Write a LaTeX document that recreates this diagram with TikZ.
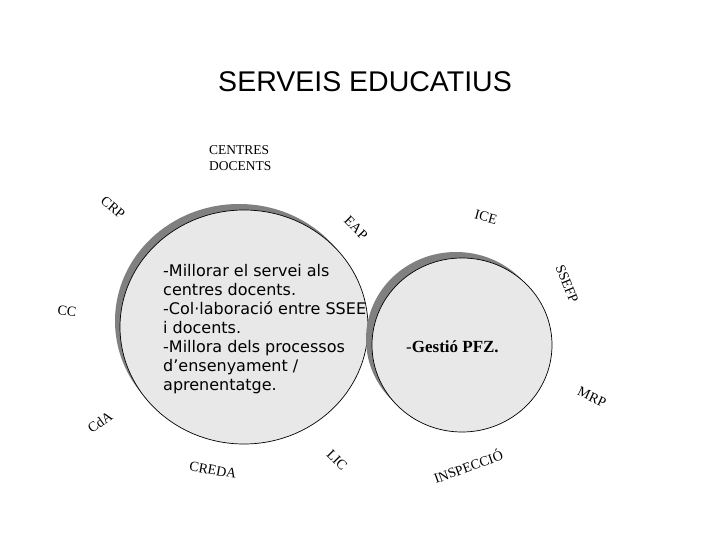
\documentclass[tikz,border=0pt]{standalone}
\usepackage{fontspec}
\usepackage{tikz}
\usetikzlibrary{shapes.geometric}
\setmainfont{Liberation Serif}
\newfontfamily\titolfont{Liberation Sans}
\newfontfamily\cosfont{DejaVu Sans}
\definecolor{fonscercle}{HTML}{E8E8E8}
\definecolor{ombracercle}{HTML}{808080}

\begin{document}
\begin{tikzpicture}[x=1pt, y=-1pt,
    cercle/.style={ellipse, draw=black, line width=0.7pt, fill=fonscercle, inner sep=0pt},
    ombra/.style={ellipse, fill=ombracercle, inner sep=0pt},
    etiqueta/.style={font=\fontsize{14}{16}\selectfont, inner sep=0pt}]
    \useasboundingbox (0,0) rectangle (720,540);

    \node[font=\titolfont\fontsize{28.5}{30}\selectfont, anchor=base, inner sep=0pt] (titol) at (365,92) {SERVEIS EDUCATIUS};

    % cercles amb ombra
    \node[ombra, minimum width=248pt, minimum height=234pt] (ombraesq) at (239,321) {};
    \node[cercle, minimum width=248pt, minimum height=234pt] (esquerra) at (244,327) {};
    \node[ombra, minimum width=180pt, minimum height=174pt] (ombradre) at (456,339) {};
    \node[cercle, minimum width=180pt, minimum height=174pt] (dreta) at (462,345) {};

    \node[anchor=north west, align=left, inner sep=0pt, font=\cosfont\fontsize{16}{19}\selectfont] (objectius) at (163,264) {-Millorar el servei als\\centres docents.\\-Col·laboració entre SSEE\\i docents.\\-Millora dels processos\\d’ensenyament /\\aprenentatge.};
    \node[anchor=base west, inner sep=0pt, font=\fontsize{17}{19}\selectfont] (gestio) at (406,352) {-\textbf{Gestió PFZ.}};

    \node[anchor=base west, align=left, inner sep=0pt, font=\fontsize{13.5}{16}\selectfont] (centres) at (209,171) {CENTRES\\DOCENTS};

    % serveis al voltant
    \node[etiqueta, rotate=-40] (crp) at (113,208) {CRP};
    \node[etiqueta, rotate=-45] (eap) at (356,228) {EAP};
    \node[etiqueta, rotate=-15] (ice) at (486,217) {ICE};
    \node[etiqueta, rotate=-68] (ssefp) at (567,284) {SSEFP};
    \node[etiqueta, rotate=-25] (mrp) at (592,397) {MRP};
    \node[etiqueta, rotate=20] (inspeccio) at (468,466) {INSPECCIÓ};
    \node[etiqueta, rotate=-45] (lic) at (337,460) {LIC};
    \node[etiqueta, rotate=-10] (creda) at (213,470) {CREDA};
    \node[etiqueta, rotate=35] (cda) at (100,422) {CdA};
    \node[etiqueta, rotate=-8] (cc) at (67,311) {CC};
\end{tikzpicture}
\end{document}
